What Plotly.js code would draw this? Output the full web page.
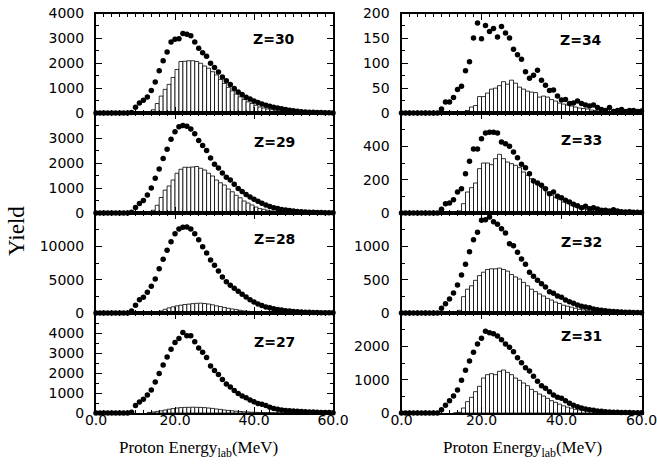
<!DOCTYPE html>
<html><head><meta charset="utf-8">
<script src="https://cdn.plot.ly/plotly-3.0.1.min.js"></script>
<style>html,body{margin:0;padding:0;background:#fff}#chart{width:657px;height:468px}</style>
</head><body><div id="chart"></div>
<script>
// ---- data ----
const dotEnergy = [0,1,2,3,4,5,6,7,8,9,10,11,12,13,14,15,16,17,18,19,20,21,22,23,24,25,26,27,28,29,30,
  31,32,33,34,35,36,37,38,39,40,41,42,43,44,45,46,47,48,49,50,51,52,53,54,55,56,57,58,59,60];
const barEnergy = [13.5,14.5,15.5,16.5,17.5,18.5,19.5,20.5,21.5,22.5,23.5,24.5,25.5,26.5,27.5,28.5,
  29.5,30.5,31.5,32.5,33.5,34.5,35.5,36.5,37.5,38.5,39.5,40.5,41.5,42.5,43.5,44.5,45.5,46.5,47.5,
  48.5,49.5,50.5,51.5,52.5,53.5,54.5,55.5,56.5];
const panelLabels = ['Z=30','Z=29','Z=28','Z=27','Z=34','Z=33','Z=32','Z=31'];

const dotsZ30 = [0,0,0,0,0,0,0,0,0, 20,230,400,510,640,900,1250,1700,2100,2450,
  2850,2960,2980,3200,3170,3110,2850,2600,2420,2280, 2000,1830,1650,1450,1300,1150,980,840,740,630,
  560,480,420,360,310,270,230,200,170,140, 110,90,70,55,45,35,30,25,20,15, 10,5];
const dotsZ29 = [0,0,0,0,0,0,0,0,0,30, 220,380,500,720,1000,1390,1760,2180,2550,2950,
  3250,3450,3500,3470,3360,3170,2900,2700,2500,2200, 1950,1800,1600,1430,1320,1150,980,860,740,640,
  550,470,390,320,260,210,175,140,115,95, 80,60,50,40,30,25,20,15,10,8, 5];
const dotsZ28 = [0,0,0,0,0,0,0,0,0, 300,1150,2000,2350,3100,4000,5100,6650,8050,9400,
  10700,11900,12600,12850,12900,12600,11900,11000,9950,9000, 7950,7150,6300,5400,4700,4150,3700,3280,2800,2400,
  2000,1650,1350,1120,900,780,620,520,440,350, 290,240,200,160,130,110,90,70,55,40, 30,20];
const dotsZ27 = [0,0,0,0,0,0,0,0,0, 40,380,550,690,900,1150,1550,1980,2400,2800,
  3190,3530,3730,4030,3860,3860,3560,3250,3040,2780, 2350,2120,1920,1680,1450,1300,1120,980,850,760,
  650,560,480,440,370,290,230,190,150,130, 110,95,85,75,65,55,45,40,30,25, 20,15];
const dotsZ34 = [0,0,0,0,0,0,0,0,0,0, 8,22,22,31,47,54,85,103,151,181,
  149,176,164,170,153,174,161,151,128,117, 108,83,70,76,86,66,56,45,46,34,
  26,27,19,20,24,19,16,14,16,11, 7,5,11,3,5,7,3,5,5,3, 4];
const dotsZ33 = [0,0,0,0,0,0,0,0,0,0, 22,56,60,80,126,146,236,310,384,384,
  446,480,485,485,480,426,416,400,366,332, 292,272,236,192,180,166,146,116,126,100,
  92,76,66,52,44,32,40,26,32,24, 16,16,12,20,12,8,6,8,4,4, 3];
const dotsZ32 = [0,0,0,0,0,0,0,0,0,0, 70,140,210,300,420,570,730,920,1100,1210,
  1390,1400,1440,1370,1330,1265,1200,1040,1010,910, 810,730,610,550,490,440,390,320,295,255,
  235,195,170,145,120,100,90,80,60,50, 40,32,26,22,18,14,12,10,8,6, 5];
const dotsZ31 = [0,0,0,0,0,0,0,0,0,0, 100,235,370,510,690,980,1280,1560,1820,2070,
  2240,2450,2410,2380,2310,2200,2070,1970,1840,1660, 1510,1360,1260,1100,950,820,745,640,540,470,
  440,370,290,235,185,150,120,100,80,60, 50,40,32,26,20,16,14,12,10,8, 6];

const barsZ30 = [0,130,380,680,950,1150,1430,1750,2070,2080, 2100,2100,2070,2000,1890,1800,1660,1530,1350,1190,
  1030,890,760,650,540,450,380,310,240,200, 160,135,108,80,68,55,45,35,28,20, 15,10,6,4];
const barsZ29 = [0,110,310,620,915,1080,1320,1590,1750,1830, 1830,1840,1860,1790,1720,1590,1480,1320,1210,1120,
  960,850,710,610,480,400,320,240,175,150, 110,80,67,55,45,35,28,20,15,10, 8,5,3,2];
const barsZ28 = [0,0,150,300,560,770,920,1070,1170,1280, 1330,1400,1450,1480,1430,1350,1230,1080,970,830,
  710,610,510,410,310,250,200,150,120,90, 70,50,40,30,20,15,10,8,5,0, 0,0,0,0];
const barsZ27 = [30,50,80,110,150,190,220,250,270,280, 285,290,285,280,270,250,230,200,180,150,
  130,110,90,75,60,50,40,30,25,20, 15,10,8,5,0,0,0,0,0,0, 0,0,0,0];
const barsZ34 = [0,0,0,5,12,15,33,33,40,48, 50,55,63,58,66,60,52,48,44,42,
  41,32,34,32,27,24,20,18,16,14, 12,10,9,8,6,5,4,4,3,3, 2,2,2,1];
const barsZ33 = [0,12,56,126,152,180,266,300,300,290, 326,352,326,306,296,286,272,246,226,206,
  186,166,146,126,106,92,80,66,56,46, 36,30,24,20,16,12,10,8,6,5, 4,3,2,2];
const barsZ32 = [0,40,245,357,408,490,561,612,653,663, 663,673,653,628,577,541,510,459,408,357,
  321,286,255,219,194,163,143,117,102,87, 71,56,46,36,28,22,17,13,10,8, 6,4,3,2];
const barsZ31 = [0,20,150,340,470,640,800,1050,1150,1180, 1150,1250,1290,1220,1150,1050,980,900,820,710,
  640,570,510,440,370,320,265,215,175,145, 110,90,70,55,42,32,25,18,13,10, 7,5,3,2];

const yMax = [4000, 4000, 15000, 5000, 200, 600, 1500, 3000];
const yTickVals = [[0,1000,2000,3000,4000],[0,1000,2000,3000],[0,5000,10000],[0,1000,2000,3000,4000],
  [0,50,100,150,200],[0,200,400],[0,500,1000],[0,1000,2000]];
const yMinorStep = [500, 500, 2500, 500, 25, 100, 250, 500];
const xTickVals = [0,20,40,60];
const xTickText = ['0.0','20.0','40.0','60.0'];

const allDots = [dotsZ30,dotsZ29,dotsZ28,dotsZ27,dotsZ34,dotsZ33,dotsZ32,dotsZ31];
const allBars = [barsZ30,barsZ29,barsZ28,barsZ27,barsZ34,barsZ33,barsZ32,barsZ31];

// ---- layout geometry (pixels) ----
const W = 657, H = 468;
const colX = [[96, 333], [401.5, 641.5]];
const rowY = [[13.5, 113], [113, 213], [213, 313], [313, 413]];
const labelPx = [[274, 39], [274, 141.5], [274, 239.5], [274, 342], [581, 40], [581, 139.5], [581, 241.5], [581, 336]];

const tickFont = {family: 'DejaVu Sans', size: 14, color: '#000'};
const traces = [];
const layout = {
  width: W, height: H, margin: {l: 0, r: 0, t: 0, b: 0},
  paper_bgcolor: '#fff', plot_bgcolor: '#fff', showlegend: false, bargap: 0,
  annotations: []
};

for (let k = 0; k < 8; k++) {
  const col = k < 4 ? 0 : 1, row = k % 4;
  const id = k + 1;
  const xa = 'x' + id, ya = 'y' + id;
  traces.push({type: 'bar', x: barEnergy, y: allBars[k], width: 1, xaxis: xa, yaxis: ya,
    marker: {color: '#fff', line: {color: '#000', width: 0.8}}, hoverinfo: 'skip'});
  traces.push({type: 'scatter', mode: 'markers', x: dotEnergy, y: allDots[k], xaxis: xa, yaxis: ya,
    cliponaxis: false, marker: {size: 5.5, color: '#000'}, hoverinfo: 'skip'});
  const common = {showline: true, linewidth: 2, linecolor: '#000', mirror: 'allticks',
    ticks: 'inside', ticklen: 6, tickwidth: 1, tickcolor: '#000', showgrid: false, zeroline: false,
    tickfont: tickFont, fixedrange: true, ticklabeloverflow: 'allow'};
  layout['xaxis' + id] = Object.assign({}, common, {
    domain: [colX[col][0] / W, colX[col][1] / W], range: [0, 60], anchor: ya,
    tickmode: 'array', tickvals: xTickVals, ticktext: xTickText, showticklabels: row === 3,
    ticklabelstandoff: -7,
    minor: {tickmode: 'linear', tick0: 0, dtick: 2, ticks: 'inside', ticklen: 3, tickwidth: 1, tickcolor: '#000', showgrid: false}
  });
  layout['yaxis' + id] = Object.assign({}, common, {
    domain: [1 - rowY[row][1] / H, 1 - rowY[row][0] / H], range: [0, yMax[k]], anchor: xa,
    tickmode: 'array', tickvals: yTickVals[k], tickformat: 'd', ticklabelstandoff: 7,
    minor: {tickmode: 'linear', tick0: 0, dtick: yMinorStep[k], ticks: 'inside', ticklen: 3, tickwidth: 1, tickcolor: '#000', showgrid: false}
  });
  layout.annotations.push({text: '<b>' + panelLabels[k] + '</b>', xref: 'paper', yref: 'paper',
    x: labelPx[k][0] / W, y: 1 - labelPx[k][1] / H, xanchor: 'center', yanchor: 'middle', showarrow: false,
    font: {family: 'DejaVu Sans', size: 14, color: '#000'}});
}

const serif = {family: 'Liberation Serif', size: 17, color: '#000'};
layout.annotations.push({text: 'Yield', xref: 'paper', yref: 'paper', x: 16.5 / W, y: 1 - 231.5 / H,
  xanchor: 'center', yanchor: 'middle', textangle: -90, showarrow: false,
  font: {family: 'Liberation Serif', size: 23, color: '#000'}});
layout.annotations.push({text: 'Proton Energy<sub>lab</sub>(MeV)', xref: 'paper', yref: 'paper',
  x: 198.5 / W, y: 1 - 449 / H, xanchor: 'center', yanchor: 'middle', showarrow: false, font: serif});
layout.annotations.push({text: 'Proton Energy<sub>lab</sub>(MeV)', xref: 'paper', yref: 'paper',
  x: 522.5 / W, y: 1 - 449 / H, xanchor: 'center', yanchor: 'middle', showarrow: false, font: serif});

Plotly.newPlot('chart', traces, layout, {staticPlot: true, displayModeBar: false});
</script></body></html>
